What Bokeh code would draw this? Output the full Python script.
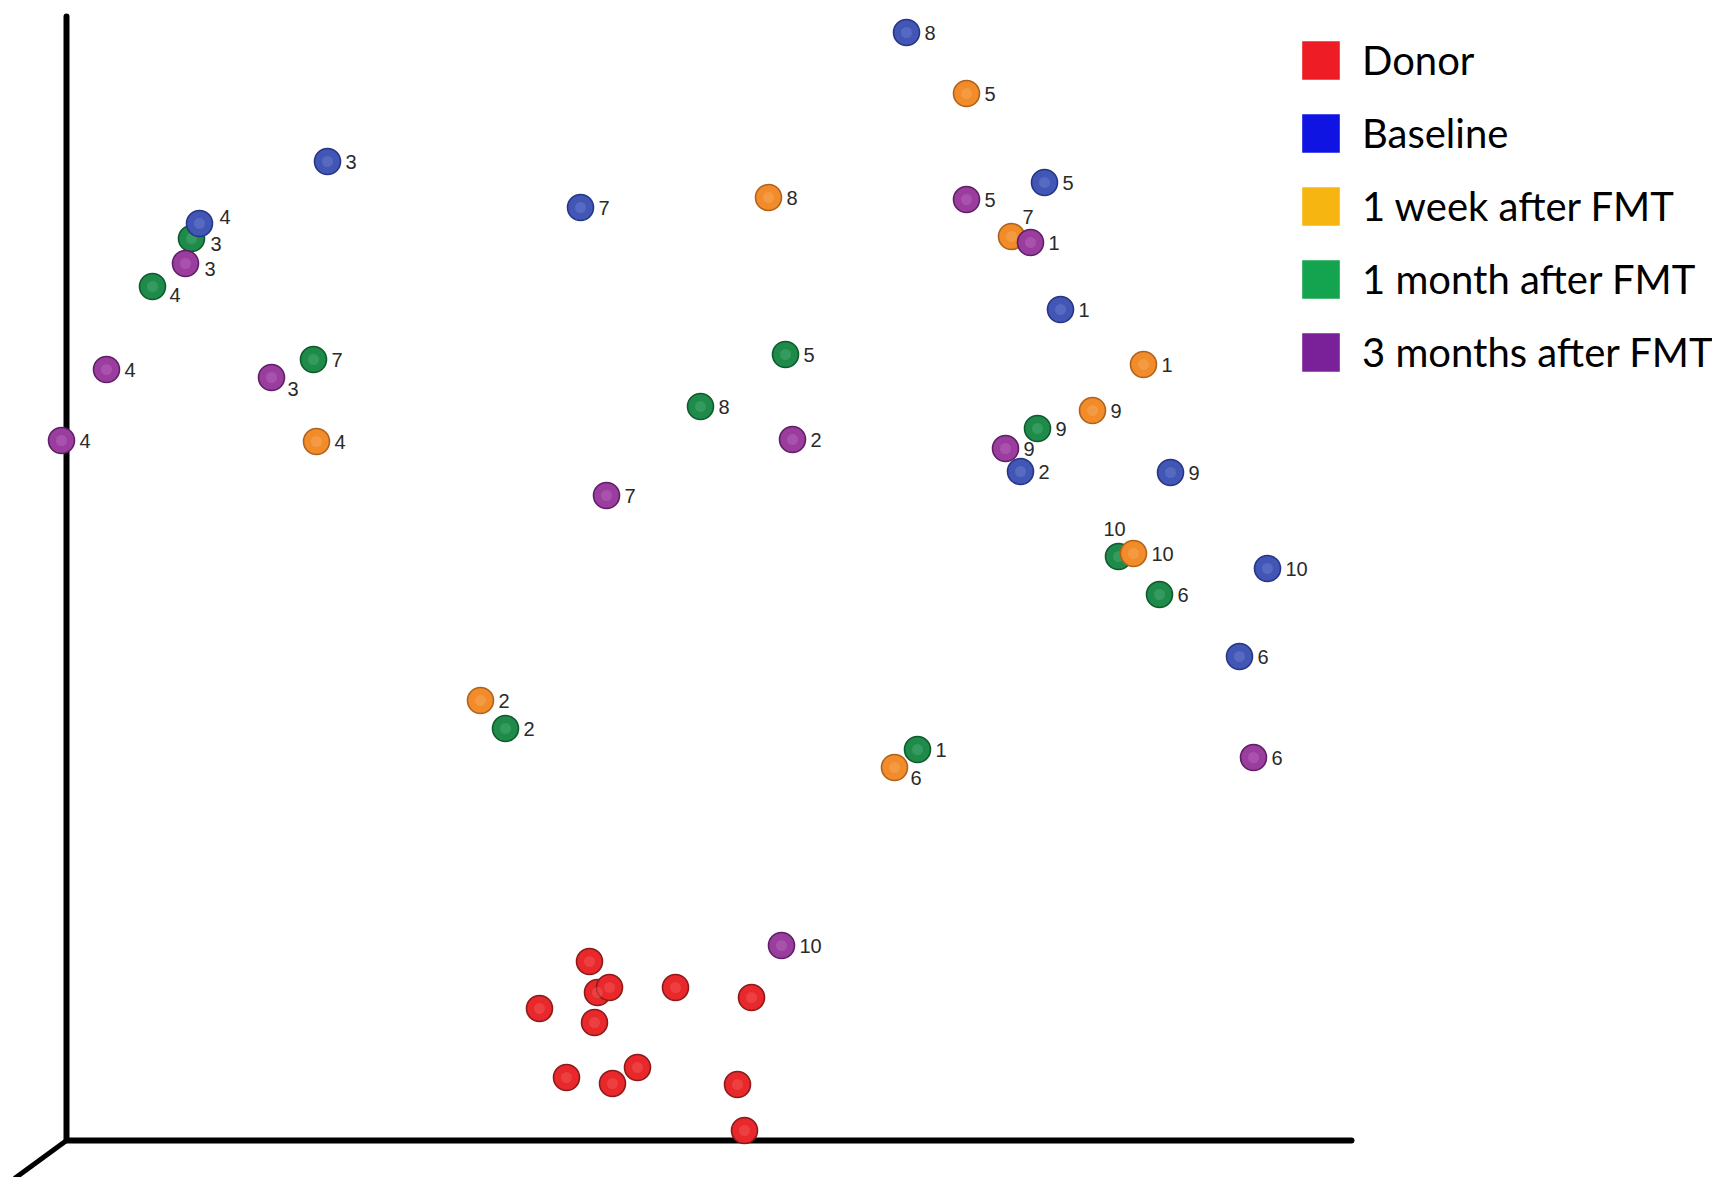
from bokeh.plotting import figure
from bokeh.models import Range1d, ColumnDataSource, Legend, LegendItem
from bokeh.core.properties import value
from bokeh.embed import file_html
from bokeh.resources import INLINE

# ---------------- data (projected ordination coordinates) -------------
group_names = ["Donor", "Baseline", "1 week after FMT", "1 month after FMT", "3 months after FMT"]

donor_x = [589, 597, 609, 539, 594, 675, 751, 566, 612, 637, 737, 744]
donor_y = [961, 992, 987, 1008, 1022, 987, 997, 1077, 1083, 1067, 1084, 1130]

baseline_id = ["8", "3", "4", "7", "5", "1", "2", "9", "10", "6"]
baseline_x = [906, 327, 199, 580, 1044, 1060, 1020, 1170, 1267, 1239]
baseline_y = [32, 161, 223, 207, 182, 309, 471, 472, 568, 656]

week1_id = ["5", "8", "7", "1", "9", "4", "10", "2", "6"]
week1_x = [966, 768, 1011, 1143, 1092, 316, 1133, 480, 894]
week1_y = [93, 197, 236, 364, 410, 441, 553, 700, 767]

month1_id = ["3", "4", "7", "5", "8", "9", "10", "6", "2", "1"]
month1_x = [191, 152, 313, 785, 700, 1037, 1118, 1159, 505, 917]
month1_y = [238, 286, 359, 354, 406, 428, 556, 594, 728, 749]

month3_id = ["3", "5", "1", "4", "3", "4", "2", "9", "7", "6", "10"]
month3_x = [185, 966, 1030, 106, 271, 61, 792, 1005, 606, 1253, 781]
month3_y = [263, 199, 242, 369, 377, 440, 439, 448, 495, 757, 945]

# 3-D axes frame
frame_x = [66, 66, 1351]
frame_y = [16, 1140, 1140]
depth_x = [66, 14]
depth_y = [1140, 1178]

# ---------------- styles ----------------
ball_fill = {"Donor": "#e8282b", "Baseline": "#4256b6", "1 week after FMT": "#f28b2a",
             "1 month after FMT": "#1f8b4a", "3 months after FMT": "#9a3d9f"}
ball_line = {"Donor": "#8c1a1a", "Baseline": "#263585", "1 week after FMT": "#b0621c",
             "1 month after FMT": "#0f5a2c", "3 months after FMT": "#5f1f66"}
ball_light = {"Donor": "#f56a6a", "Baseline": "#7d8fd8", "1 week after FMT": "#f8b672",
              "1 month after FMT": "#5cb882", "3 months after FMT": "#c47ac8"}
legend_fill = {"Donor": "#ee1c25", "Baseline": "#0f14e2", "1 week after FMT": "#f7b512",
               "1 month after FMT": "#14a34e", "3 months after FMT": "#7a2099"}

# label nudges (screen px) for labels not placed to the right of their ball
nudge = {("1 week after FMT", 2): (11, -20), ("1 month after FMT", 6): (-15, -28),
         ("3 months after FMT", 4): (16, 11), ("1 month after FMT", 1): (17, 8),
         ("1 week after FMT", 8): (16, 10), ("1 month after FMT", 0): (19, 5),
         ("3 months after FMT", 0): (19, 5), ("Baseline", 2): (20, -7)}

W, H = 1712, 1177
p = figure(width=W, height=H, x_range=Range1d(0, W), y_range=Range1d(H, 0),
           output_backend="svg", toolbar_location=None, min_border=0,
           x_axis_location=None, y_axis_location=None)
p.grid.visible = False
p.outline_line_color = None
p.background_fill_color = "white"
p.border_fill_color = "white"

p.line(frame_x, frame_y, line_color="black", line_width=6, line_join="miter", line_cap="round")
p.line(depth_x, depth_y, line_color="black", line_width=5)

series = [
    ("1 month after FMT", month1_x, month1_y, month1_id),
    ("1 week after FMT", week1_x, week1_y, week1_id),
    ("3 months after FMT", month3_x, month3_y, month3_id),
    ("Baseline", baseline_x, baseline_y, baseline_id),
    ("Donor", donor_x, donor_y, None),
]

for name, xs, ys, ids in series:
    src = ColumnDataSource(dict(x=xs, y=ys))
    p.scatter("x", "y", source=src, size=26, fill_color=ball_fill[name],
              line_color=ball_line[name], line_width=1.6)
    p.scatter("x", "y", source=src, size=11, fill_color=ball_light[name], fill_alpha=0.35,
              line_color=None)
    if ids is not None:
        dx = [nudge.get((name, i), (18, 0))[0] for i in range(len(ids))]
        dy = [nudge.get((name, i), (18, 0))[1] for i in range(len(ids))]
        lsrc = ColumnDataSource(dict(x=xs, y=ys, t=ids, dx=dx, dy=dy))
        p.text("x", "y", text="t", source=lsrc, x_offset="dx", y_offset="dy",
               text_font=value("Liberation Sans"), text_font_size="20px",
               text_color="#2a2a2a", text_baseline="middle", text_align="left")

nan = float("nan")
items = []
for name in group_names:
    r = p.rect(x=[nan], y=[nan], width=1, height=1, fill_color=legend_fill[name], line_color=None)
    items.append(LegendItem(label=name, renderers=[r]))

legend = Legend(items=items, location=(1297, 800), glyph_width=47, glyph_height=48,
                label_height=50, spacing=23, padding=0, margin=0, border_line_color=None,
                background_fill_alpha=0, label_text_font="Lato", label_text_font_size="40px",
                label_standoff=18, label_text_color="black")
p.add_layout(legend)

open("out.html", "w").write(file_html(p, INLINE))
